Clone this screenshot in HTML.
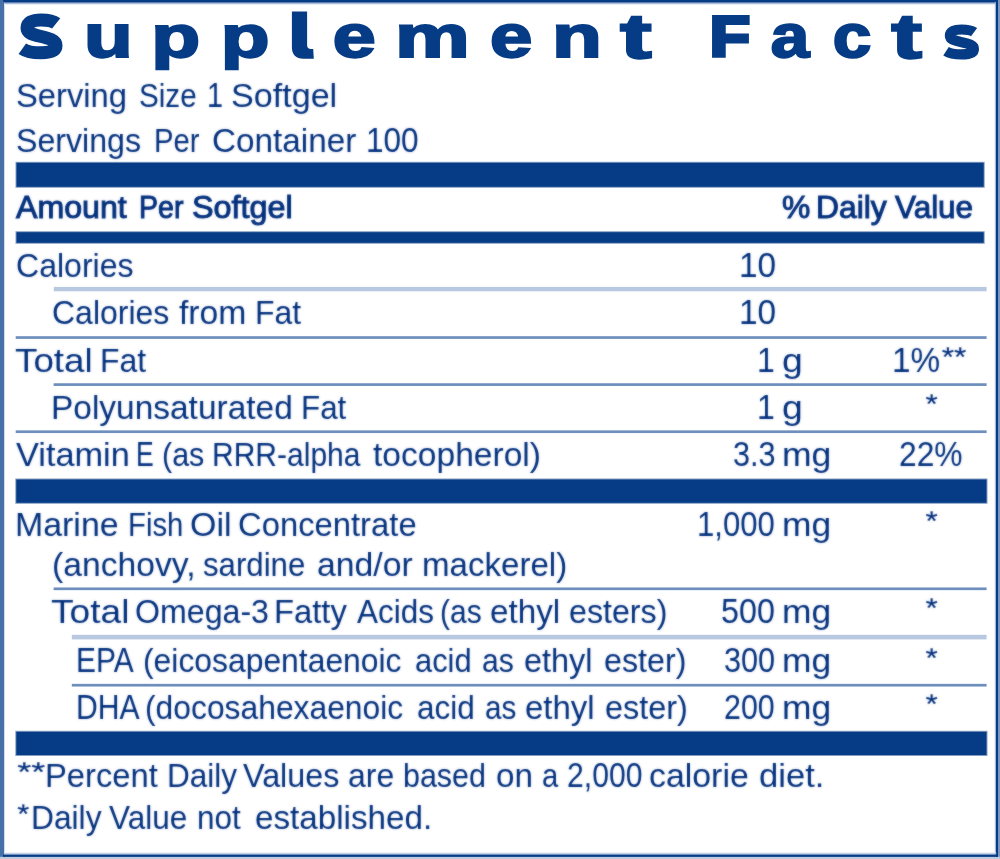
<!DOCTYPE html><html><head><meta charset="utf-8"><title>Supplement Facts</title><style>
html,body{margin:0;padding:0;background:#fff;}
body{width:1000px;height:859px;position:relative;overflow:hidden;font-family:"Liberation Sans",sans-serif;color:#002e7c;}
.t{position:absolute;display:block;white-space:nowrap;transform-origin:0 0;line-height:1;margin:0;padding:0;word-spacing:-1.5px;}
.b{-webkit-text-stroke:1.0px #002e7c;}
svg{position:absolute;left:0;top:0;}
.w{position:absolute;left:0;top:0;width:1000px;height:859px;filter:url(#soft);}
text{font-family:"Liberation Sans",sans-serif;font-size:100px;text-rendering:geometricPrecision;}
.h text{font-weight:700;fill:#063b85;stroke:#063b85;stroke-width:3.6;stroke-linejoin:miter;vector-effect:non-scaling-stroke;}
.a text{font-weight:400;fill:#002e7c;stroke:#002e7c;stroke-width:0.6;vector-effect:non-scaling-stroke;}
</style></head><body>
<svg width="1000" height="859" viewBox="0 0 1000 859">
<defs><filter id="soft" filterUnits="userSpaceOnUse" x="0" y="0" width="1000" height="859" color-interpolation-filters="sRGB"><feGaussianBlur stdDeviation="0.9" result="b"/><feComposite in="SourceGraphic" in2="b" operator="arithmetic" k1="0" k2="0.55" k3="0.44999999999999996" k4="0"/></filter></defs>
<rect x="0" y="0" width="4.25" height="859" fill="#4870a8"/>
<rect x="3.2" y="0" width="996.8" height="2.1" fill="#063b85"/>
<rect x="4.2" y="2" width="992" height="1" fill="#5a7db2"/>
<rect x="4.2" y="3" width="992" height="1" fill="#aabdd9"/>
<rect x="4.2" y="4" width="992" height="1" fill="#e6ecf5"/>
<rect x="998" y="0" width="2" height="859" fill="#7a98c2"/>
<rect x="995.6" y="0" width="2.4" height="857" fill="#063b85"/>
<rect x="994.8" y="2" width="0.9" height="853" fill="#aabdd9"/>
<rect x="0" y="856.8" width="1000" height="2.2" fill="#bccbe0"/>
<rect x="4.2" y="852.4" width="992" height="1" fill="#e6ecf5"/>
<rect x="4.2" y="853.4" width="992" height="1.2" fill="#9fb4d4"/>
<rect x="3" y="854.6" width="995" height="2.3" fill="#063b85"/>
</svg>
<svg class="g" width="1000" height="859" viewBox="0 0 1000 859">
<rect x="15.5" y="161.80" width="969.20" height="26.00" fill="#063b85" opacity="0.5"/>
<rect x="16.5" y="162.80" width="967.20" height="24.00" fill="#063b85"/>
<rect x="15.5" y="231.20" width="969.20" height="12.60" fill="#063b85" opacity="0.5"/>
<rect x="16.5" y="232.20" width="967.20" height="10.60" fill="#063b85"/>
<rect x="15.3" y="478.50" width="972.20" height="25.30" fill="#063b85" opacity="0.5"/>
<rect x="16.3" y="479.50" width="970.20" height="23.30" fill="#063b85"/>
<rect x="15.3" y="730.80" width="972.20" height="25.20" fill="#063b85" opacity="0.5"/>
<rect x="16.3" y="731.80" width="970.20" height="23.20" fill="#063b85"/>
<rect x="53.8" y="286.90" width="932.80" height="4.4" fill="#b8c8e0"/>
<rect x="15.7" y="336.20" width="970.90" height="2.7" fill="#6e8fbd"/>
<rect x="53.6" y="383.25" width="933.00" height="2.7" fill="#6e8fbd"/>
<rect x="15.7" y="430.35" width="970.90" height="2.7" fill="#6e8fbd"/>
<rect x="53.6" y="587.45" width="933.00" height="2.7" fill="#6e8fbd"/>
<rect x="71.8" y="634.80" width="914.80" height="4.6" fill="#b8c8e0"/>
<rect x="71.8" y="683.85" width="914.80" height="2.7" fill="#6e8fbd"/>
<title>Supplement Facts</title>
<g class="h">
<text x="19" y="58" style="font-size:50px;fill:none;stroke:none">S</text>
<text transform="translate(84.09 57.43) scale(0.7969 0.6059)">u</text>
<text transform="translate(151.28 56.72) scale(0.8007 0.5882)">p</text>
<text transform="translate(220.63 56.72) scale(0.7989 0.5883)">p</text>
<text x="292" y="58" style="font-size:50px;fill:none;stroke:none">l</text>
<text transform="translate(332.73 57.45) scale(0.7722 0.6023)">e</text>
<text transform="translate(394.98 57.20) scale(0.8409 0.5931)">m</text>
<text transform="translate(489.92 57.44) scale(0.7603 0.6020)">e</text>
<text transform="translate(552.01 57.20) scale(0.8166 0.5934)">n</text>
<text transform="translate(620.22 58.01) scale(0.9396 0.6298)">t</text>
<text transform="translate(709.84 56.32) scale(0.6578 0.5705)" style="stroke-width:6.4">F</text>
<text transform="translate(770.74 57.27) scale(0.6926 0.6081)">a</text>
<text transform="translate(832.81 57.22) scale(0.6924 0.6075)">c</text>
<text transform="translate(891.46 58.03) scale(0.9118 0.6302)">t</text>
<text x="944.4" y="58" style="font-size:50px;fill:none;stroke:none">s</text>
</g>
<path d="M56.2 23.4C52 20 46.5 19.9 41 19.9C32 19.9 27 22.8 27 28C27 32.8 32 34.4 40 36.3C49 38.4 56 40.2 56 45.6C56 50.6 50 52.8 41 52.8C33 52.8 27 52 22.3 48.7" fill="none" stroke="#063b85" stroke-width="13"/><path d="M56.2 23.4C52 20 46.5 19.9 41 19.9C32 19.9 27 22.8 27 28C27 32.8 32 34.4 40 36.3C49 38.4 56 40.2 56 45.6C56 50.6 50 52.8 41 52.8C33 52.8 27 52 22.3 48.7" transform="translate(927.56 14.44) scale(0.8276 0.7568)" fill="none" stroke="#063b85" stroke-width="10.2" vector-effect="non-scaling-stroke"/><path d="M291.9 11.6H307.1V45Q307.1 49 311 49H313.2L313.8 58.7H303.5Q291.9 58.7 291.9 47Z" fill="#063b85"/>
<g class="a" filter="url(#soft)">
<text transform="translate(941.68 365.84) scale(0.3165 0.2707)">**</text>
<text transform="translate(925.38 413.34) scale(0.3142 0.2707)">*</text>
<text transform="translate(925.38 529.74) scale(0.3142 0.2707)">*</text>
<text transform="translate(925.38 617.14) scale(0.3142 0.2707)">*</text>
<text transform="translate(925.38 666.54) scale(0.3142 0.2707)">*</text>
<text transform="translate(925.38 713.44) scale(0.3142 0.2707)">*</text>
<text transform="translate(17.21 781.04) scale(0.3595 0.2707)">**</text>
<text transform="translate(17.29 823.34) scale(0.3086 0.2707)">*</text>
</g>
</svg>
<div class="w">
<div><span class="t" style="left:16.08px;top:78.75px;font-size:33.5px;transform:scaleX(0.9775)">Serving</span> <span class="t" style="left:138.63px;top:78.75px;font-size:33.5px;transform:scaleX(0.8852)">Size</span> <span class="t" style="left:207.11px;top:78.75px;font-size:33.5px;transform-origin:0 28.25px;transform:scale(0.8588,1.045)">1</span> <span class="t" style="left:231.12px;top:78.75px;font-size:33.5px;transform:scaleX(1.0181)">Softgel</span></div>
<div><span class="t" style="left:16.11px;top:123.75px;font-size:33.5px;transform:scaleX(0.9595)">Servings</span> <span class="t" style="left:154.30px;top:123.75px;font-size:33.5px;transform:scaleX(0.8728)">Per</span> <span class="t" style="left:212.31px;top:123.75px;font-size:33.5px;transform:scaleX(0.9932)">Container</span> <span class="t" style="left:365.59px;top:123.75px;font-size:33.5px;transform-origin:0 28.25px;transform:scale(0.9420,1.045)">100</span></div>
<div><span class="t b" style="left:16.30px;top:192.25px;font-size:31.5px;transform:scaleX(1.0202)">Amount</span> <span class="t b" style="left:138.86px;top:192.25px;font-size:31.5px;transform:scaleX(0.9059)">Per</span> <span class="t b" style="left:191.69px;top:192.25px;font-size:31.5px;transform:scaleX(1.0265)">Softgel</span></div>
<div><span class="t b" style="left:781.87px;top:192.25px;font-size:31.5px;transform:scaleX(1.0094)">%</span> <span class="t b" style="left:815.89px;top:192.25px;font-size:31.5px;transform:scaleX(1.0105)">Daily</span> <span class="t b" style="left:895.29px;top:192.25px;font-size:31.5px;transform:scaleX(0.9985)">Value</span></div>
<div><span class="t" style="left:16.07px;top:248.75px;font-size:33.5px;transform:scaleX(0.9571)">Calories</span> <span class="t" style="left:739.05px;top:248.75px;font-size:33.5px;transform-origin:0 28.25px;transform:scale(0.9974,1.045)">10</span></div>
<div><span class="t" style="left:51.57px;top:295.75px;font-size:33.5px;transform:scaleX(0.9546)">Calories</span> <span class="t" style="left:178.82px;top:295.75px;font-size:33.5px;transform:scaleX(1.0061)">from</span> <span class="t" style="left:254.68px;top:295.75px;font-size:33.5px;transform:scaleX(0.9517)">Fat</span> <span class="t" style="left:739.05px;top:295.75px;font-size:33.5px;transform-origin:0 28.25px;transform:scale(0.9974,1.045)">10</span></div>
<div><span class="t" style="left:15.47px;top:343.75px;font-size:33.5px;transform:scaleX(1.0977)">Total</span> <span class="t" style="left:100.08px;top:343.75px;font-size:33.5px;transform:scaleX(0.9539)">Fat</span> <span class="t" style="left:757.16px;top:343.75px;font-size:33.5px;transform-origin:0 28.25px;transform:scale(0.9558,1.045)">1</span> <span class="t" style="left:782.03px;top:343.75px;font-size:33.5px;transform:scaleX(1.1161)">g</span> <span class="t" style="left:892.06px;top:343.75px;font-size:33.5px;transform-origin:0 28.25px;transform:scale(0.9942,1.045)">1%</span></div>
<div><span class="t" style="left:51.16px;top:390.75px;font-size:33.5px;transform:scaleX(0.9985)">Polyunsaturated</span> <span class="t" style="left:301.43px;top:390.75px;font-size:33.5px;transform:scaleX(0.9363)">Fat</span> <span class="t" style="left:757.16px;top:390.75px;font-size:33.5px;transform-origin:0 28.25px;transform:scale(0.9558,1.045)">1</span> <span class="t" style="left:782.03px;top:390.75px;font-size:33.5px;transform:scaleX(1.1161)">g</span></div>
<div><span class="t" style="left:15.71px;top:437.75px;font-size:33.5px;transform:scaleX(1.0246)">Vitamin</span> <span class="t" style="left:136.12px;top:437.75px;font-size:33.5px;transform-origin:0 28.25px;transform:scale(0.7932,1.045)">E</span> <span class="t" style="left:162.11px;top:437.75px;font-size:33.5px;transform:scaleX(0.9088)">(as</span> <span class="t" style="left:211.54px;top:437.75px;font-size:33.5px;transform:scaleX(0.8959)">RRR-alpha</span> <span class="t" style="left:373.49px;top:437.75px;font-size:33.5px;transform:scaleX(1.0023)">tocopherol)</span> <span class="t" style="left:733.31px;top:437.75px;font-size:33.5px;transform-origin:0 28.25px;transform:scale(0.9133,1.045)">3.3</span> <span class="t" style="left:782.13px;top:437.75px;font-size:33.5px;transform:scaleX(1.0606)">mg</span> <span class="t" style="left:899.00px;top:437.75px;font-size:33.5px;transform-origin:0 28.25px;transform:scale(0.9478,1.045)">22%</span></div>
<div><span class="t" style="left:15.22px;top:507.75px;font-size:33.5px;transform:scaleX(1.0118)">Marine</span> <span class="t" style="left:128.30px;top:507.75px;font-size:33.5px;transform:scaleX(0.8737)">Fish</span> <span class="t" style="left:190.09px;top:507.75px;font-size:33.5px;transform:scaleX(1.0131)">Oil</span> <span class="t" style="left:238.33px;top:507.75px;font-size:33.5px;transform:scaleX(0.9787)">Concentrate</span> <span class="t" style="left:697.13px;top:507.75px;font-size:33.5px;transform-origin:0 28.25px;transform:scale(0.9284,1.045)">1,000</span> <span class="t" style="left:782.14px;top:507.75px;font-size:33.5px;transform:scaleX(1.0559)">mg</span></div>
<div><span class="t" style="left:51.81px;top:547.75px;font-size:33.5px;transform:scaleX(1.0053)">(anchovy,</span> <span class="t" style="left:203.40px;top:547.75px;font-size:33.5px;transform:scaleX(0.9308)">sardine</span> <span class="t" style="left:316.56px;top:547.75px;font-size:33.5px;transform:scaleX(1.0075)">and/or</span> <span class="t" style="left:421.79px;top:547.75px;font-size:33.5px;transform:scaleX(0.9877)">mackerel)</span></div>
<div><span class="t" style="left:50.66px;top:594.75px;font-size:33.5px;transform:scaleX(1.1095)">Total</span> <span class="t" style="left:135.18px;top:594.75px;font-size:33.5px;transform:scaleX(0.9593)">Omega-3</span> <span class="t" style="left:274.01px;top:594.75px;font-size:33.5px;transform:scaleX(0.9776)">Fatty</span> <span class="t" style="left:356.58px;top:594.75px;font-size:33.5px;transform:scaleX(0.9383)">Acids</span> <span class="t" style="left:440.44px;top:594.75px;font-size:33.5px;transform:scaleX(0.8950)">(as</span> <span class="t" style="left:490.29px;top:594.75px;font-size:33.5px;transform:scaleX(0.9924)">ethyl</span> <span class="t" style="left:568.63px;top:594.75px;font-size:33.5px;transform:scaleX(0.9610)">esters)</span> <span class="t" style="left:721.16px;top:594.75px;font-size:33.5px;transform-origin:0 28.25px;transform:scale(0.9637,1.045)">500</span> <span class="t" style="left:782.14px;top:594.75px;font-size:33.5px;transform:scaleX(1.0559)">mg</span></div>
<div><span class="t" style="left:76.44px;top:643.75px;font-size:33.5px;transform-origin:0 28.25px;transform:scale(0.8935,1.045)">EPA</span> <span class="t" style="left:143.02px;top:643.75px;font-size:33.5px;transform:scaleX(0.9508)">(eicosapentaenoic</span> <span class="t" style="left:415.39px;top:643.75px;font-size:33.5px;transform:scaleX(0.9212)">acid</span> <span class="t" style="left:482.02px;top:643.75px;font-size:33.5px;transform:scaleX(0.8983)">as</span> <span class="t" style="left:523.62px;top:643.75px;font-size:33.5px;transform:scaleX(0.9686)">ethyl</span> <span class="t" style="left:603.63px;top:643.75px;font-size:33.5px;transform:scaleX(0.9621)">ester)</span> <span class="t" style="left:723.80px;top:643.75px;font-size:33.5px;transform-origin:0 28.25px;transform:scale(0.9153,1.045)">300</span> <span class="t" style="left:782.14px;top:643.75px;font-size:33.5px;transform:scaleX(1.0559)">mg</span></div>
<div><span class="t" style="left:76.42px;top:690.75px;font-size:33.5px;transform-origin:0 28.25px;transform:scale(0.9007,1.045)">DHA</span> <span class="t" style="left:145.32px;top:690.75px;font-size:33.5px;transform:scaleX(0.9497)">(docosahexaenoic</span> <span class="t" style="left:416.96px;top:690.75px;font-size:33.5px;transform:scaleX(0.9402)">acid</span> <span class="t" style="left:484.74px;top:690.75px;font-size:33.5px;transform:scaleX(0.8861)">as</span> <span class="t" style="left:525.30px;top:690.75px;font-size:33.5px;transform:scaleX(0.9835)">ethyl</span> <span class="t" style="left:605.32px;top:690.75px;font-size:33.5px;transform:scaleX(0.9682)">ester)</span> <span class="t" style="left:724.22px;top:690.75px;font-size:33.5px;transform-origin:0 28.25px;transform:scale(0.9077,1.045)">200</span> <span class="t" style="left:782.14px;top:690.75px;font-size:33.5px;transform:scaleX(1.0559)">mg</span></div>
<div><span class="t" style="left:44.71px;top:758.75px;font-size:33.5px;transform:scaleX(0.9774)">Percent</span> <span class="t" style="left:166.71px;top:758.75px;font-size:33.5px;transform:scaleX(0.9413)">Daily</span> <span class="t" style="left:243.12px;top:758.75px;font-size:33.5px;transform:scaleX(0.9639)">Values</span> <span class="t" style="left:347.94px;top:758.75px;font-size:33.5px;transform:scaleX(0.9537)">are</span> <span class="t" style="left:403.03px;top:758.75px;font-size:33.5px;transform:scaleX(0.9090)">based</span> <span class="t" style="left:495.90px;top:758.75px;font-size:33.5px;transform:scaleX(0.9920)">on</span> <span class="t" style="left:542.06px;top:758.75px;font-size:33.5px;transform:scaleX(0.8721)">a</span> <span class="t" style="left:566.78px;top:758.75px;font-size:33.5px;transform-origin:0 28.25px;transform:scale(0.8993,1.045)">2,000</span> <span class="t" style="left:649.06px;top:758.75px;font-size:33.5px;transform:scaleX(1.0109)">calorie</span> <span class="t" style="left:758.54px;top:758.75px;font-size:33.5px;transform:scaleX(1.0334)">diet.</span></div>
<div><span class="t" style="left:31.30px;top:800.75px;font-size:33.5px;transform:scaleX(0.9468)">Daily</span> <span class="t" style="left:109.13px;top:800.75px;font-size:33.5px;transform:scaleX(0.9406)">Value</span> <span class="t" style="left:197.20px;top:800.75px;font-size:33.5px;transform:scaleX(0.9393)">not</span> <span class="t" style="left:254.59px;top:800.75px;font-size:33.5px;transform:scaleX(0.9910)">established.</span></div>
</div>
</body></html>
